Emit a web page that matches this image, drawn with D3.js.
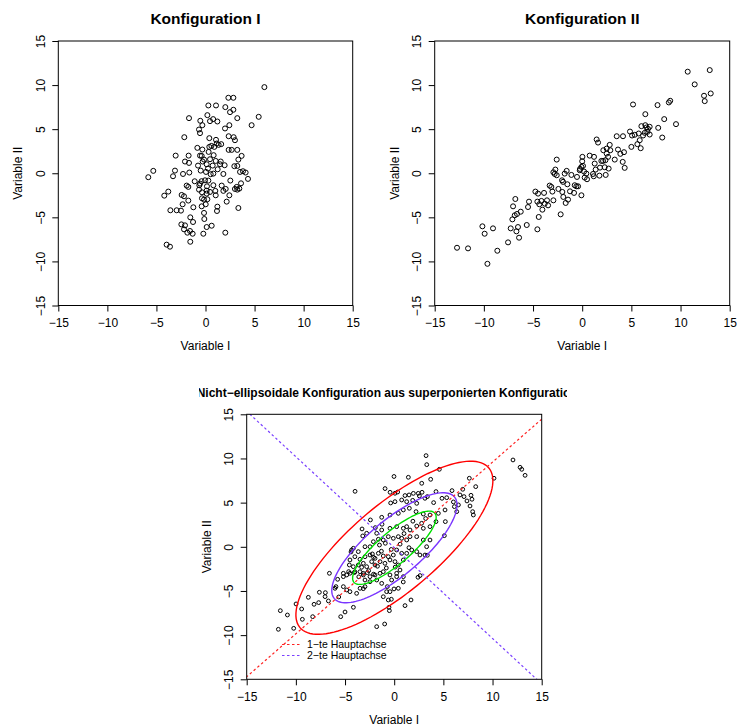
<!DOCTYPE html>
<html>
<head>
<meta charset="utf-8">
<script src="https://cdn.jsdelivr.net/npm/d3@7"></script>
<style>
  body { margin: 0; background: #fff; }
  svg { display: block; font-family: "Liberation Sans", Arial, sans-serif; }
</style>
</head>
<body>
<div id="chart"></div>
<script>
// ticks shared by all three panels
var ticks = [-15, -10, -5, 0, 5, 10, 15];

// Konfiguration I
var konfI = [[6.0,9.77],[2.33,8.56],[2.84,8.56],[0.29,7.69],[1.07,7.69],[2.02,7.5],[2.84,7.2],[2.5,6.93],[-1.68,6.25],[0.19,6.59],[0.78,6.14],[0.46,5.91],[1.21,5.87],[3.24,6.25],[5.42,6.4],[4.7,5.45],[-0.53,5.95],[-0.32,5.45],[2.43,5.45],[1.99,5.08],[-0.66,4.96],[-0.56,4.55],[-2.16,4.09],[0.39,3.98],[2.36,4.2],[2.87,4.09],[3.0,3.75],[1.07,3.79],[1.14,3.37],[1.34,3.22],[0.9,2.99],[-0.83,2.88],[-0.32,2.69],[0.39,2.99],[2.36,2.65],[2.67,2.65],[3.24,2.65],[0.32,2.42],[-0.56,2.0],[-0.39,1.97],[0.83,2.05],[3.68,1.97],[-3.04,2.0],[-1.72,2.0],[-0.29,1.33],[-0.15,1.55],[0.46,1.59],[1.04,1.4],[1.55,1.33],[3.35,1.55],[-2.09,1.33],[-1.68,1.17],[-0.76,0.87],[0.12,1.02],[0.73,0.87],[1.48,1.02],[1.95,0.91],[2.94,0.8],[3.24,0.83],[3.82,0.23],[4.09,0.08],[3.52,0.15],[1.24,0.45],[0.05,0.15],[0.53,-0.11],[1.82,-0.08],[-0.49,0.3],[-1.65,0.08],[-2.29,-0.08],[-3.11,0.3],[-3.31,-0.34],[-5.32,0.27],[-5.83,-0.45],[4.33,-0.64],[2.53,-0.83],[-0.05,-0.8],[0.29,-0.83],[-1.1,-0.91],[-0.56,-1.17],[0.8,-1.36],[1.65,-1.4],[0.15,-1.48],[-1.92,-1.4],[-1.75,-1.55],[3.18,-1.55],[3.0,-1.78],[3.24,-1.86],[3.45,-1.74],[3.62,-1.14],[2.06,-1.78],[-0.66,-1.86],[0.12,-1.97],[1.0,-2.0],[1.82,-2.0],[-0.36,-2.16],[0.46,-2.12],[0.12,-2.31],[1.04,-2.5],[2.43,-2.5],[-2.43,-2.46],[-2.19,-2.61],[-4.2,-2.54],[-3.79,-2.08],[-0.36,-2.84],[-0.15,-2.99],[0.19,-2.95],[-1.75,-3.1],[2.16,-3.22],[-2.33,-3.52],[-0.39,-3.75],[0.02,-3.52],[1.21,-3.79],[-1.24,-3.86],[-3.58,-4.2],[-2.94,-4.2],[-2.5,-4.24],[1.17,-4.28],[3.35,-3.94],[-0.15,-4.5],[-1.55,-5.0],[-0.12,-5.19],[-1.27,-5.53],[-2.46,-5.8],[-2.09,-5.91],[0.63,-5.95],[0.12,-6.1],[-2.19,-6.36],[-1.58,-6.55],[-1.85,-6.74],[-1.31,-6.86],[-0.22,-6.86],[2.02,-6.74],[-1.55,-7.77],[-3.96,-8.1],[-3.62,-8.33],[-0.63,-1.36],[0.8,-0.04],[0.25,0.53],[0.6,3.1],[1.6,3.3],[-0.4,-0.9]];

// Konfiguration II
var konfII = [[-12.73,-8.45],[-11.61,-8.52],[-9.64,-10.27],[-8.63,-8.79],[-10.15,-6.02],[-9.92,-6.86],[-9.07,-6.25],[-7.54,-7.84],[-7.27,-6.25],[-6.53,-6.1],[-6.42,-7.31],[-6.69,-6.59],[-7.1,-5.23],[-6.86,-4.77],[-6.63,-4.62],[-6.25,-4.36],[-7.03,-3.75],[-6.8,-2.92],[-5.64,-5.87],[-5.51,-3.83],[-5.41,-3.22],[-4.76,-2.08],[-4.56,-3.22],[-4.49,-2.31],[-4.42,-4.96],[-4.56,-6.36],[-4.36,-3.52],[-4.15,-3.14],[-4.05,-4.13],[-3.81,-3.45],[-3.88,-2.23],[-3.58,-3.07],[-3.47,-3.64],[-3.31,-1.4],[-3.14,-1.55],[-3.03,-2.08],[-2.93,-3.07],[-2.93,0.11],[-2.8,-0.08],[-2.59,1.55],[-2.59,-0.23],[-2.73,0.42],[-2.42,-1.78],[-2.19,-4.66],[-2.05,-0.8],[-1.95,-0.98],[-2.02,-2.12],[-1.92,-2.69],[-1.78,-0.04],[-1.68,-3.37],[-1.58,0.27],[-1.51,-1.25],[-1.44,-2.99],[-1.24,-2.05],[-1.1,-0.19],[-0.83,-2.23],[-0.76,-1.36],[-0.59,-1.48],[-0.53,-0.42],[-0.42,-1.48],[-0.25,0.34],[-0.08,-2.5],[-0.22,0.49],[-0.08,0.72],[0.02,1.86],[0.0,1.36],[0.08,0.83],[0.19,0.19],[0.25,-0.49],[0.42,-0.04],[0.49,-0.68],[0.76,2.0],[1.1,-0.08],[1.17,-0.34],[1.2,1.86],[1.27,1.1],[1.47,3.83],[1.61,3.48],[1.37,0.42],[1.75,-0.27],[1.81,0.64],[1.95,1.4],[2.15,2.61],[2.12,1.4],[2.29,0.68],[2.36,1.48],[2.39,-0.19],[2.49,2.23],[2.49,2.8],[2.63,1.86],[2.69,0.53],[2.8,3.22],[2.86,2.61],[3.31,1.55],[3.51,4.2],[3.64,2.69],[3.88,2.2],[4.15,4.2],[4.25,2.39],[4.12,1.29],[4.32,0.61],[4.86,4.73],[5.0,2.99],[5.07,4.28],[5.17,7.8],[5.34,4.36],[5.61,3.3],[5.75,4.51],[5.85,3.75],[5.95,2.84],[6.02,5.34],[6.19,4.28],[6.36,4.58],[6.42,6.7],[6.42,5.45],[6.53,5.19],[6.69,5.04],[6.86,4.39],[6.86,5.27],[6.63,4.7],[7.66,7.73],[7.73,5.15],[8.14,4.05],[8.34,6.14],[8.81,8.03],[8.95,8.22],[9.54,5.57],[10.73,11.52],[11.44,10.08],[12.39,8.79],[12.46,8.18],[12.97,11.7],[13.07,9.05]];

// superponierte Konfiguration
var superKonf = [[-11.78,-9.34],[-11.58,-7.23],[-10.86,-7.72],[-10.22,-9.23],[-9.98,-6.47],[-9.41,-7.04],[-9.34,-8.21],[-8.73,-5.72],[-8.29,-7.91],[-8.15,-6.51],[-7.68,-6.32],[-7.61,-5.15],[-7.0,-5.19],[-7.03,-5.64],[-6.69,-6.13],[-6.59,-3.0],[-5.92,-4.51],[-5.75,-3.68],[-5.64,-5.68],[-5.44,-7.91],[-5.0,-7.38],[-4.83,-4.89],[-4.15,-6.85],[-3.98,6.28],[-5.17,-3.0],[-4.63,-2.81],[-4.39,-0.58],[-4.15,-0.17],[-4.05,-2.92],[-3.27,2.02],[-3.2,1.23],[-3.31,-2.32],[-3.14,-3.0],[-3.47,-4.7],[-3.14,-4.74],[-2.42,3.04],[-2.22,-0.81],[-1.92,2.17],[-1.78,-9.04],[-1.24,2.55],[-0.97,-8.74],[-0.93,6.59],[-0.53,-6.85],[-0.49,-7.23],[-0.42,6.17],[-0.36,4.96],[-0.02,7.96],[0.08,6.06],[-0.29,-5.94],[-0.02,-4.77],[0.92,-3.98],[1.1,-6.66],[1.44,7.87],[1.51,5.87],[1.71,-6.02],[2.42,-3.45],[2.63,-3.26],[2.56,5.76],[2.8,7.19],[3.24,10.32],[3.31,9.3],[3.37,-0.96],[3.37,5.68],[3.71,7.64],[4.25,6.25],[4.59,8.77],[4.86,5.49],[5.1,1.26],[5.2,2.85],[5.88,6.36],[6.02,5.08],[6.12,4.55],[6.36,3.98],[6.53,4.74],[6.69,5.87],[6.97,6.51],[7.1,5.68],[7.4,5.19],[7.64,7.76],[7.71,4.62],[7.81,5.83],[7.91,5.38],[7.98,3.98],[8.05,3.6],[8.29,6.81],[10.15,7.76],[12.08,9.83],[12.8,9.0],[12.97,8.77],[13.31,8.09],
  [0.35,6.2],[1.1,5.8],[1.95,6.05],[2.45,6.05],[2.83,6.17],[0.08,5.11],[0.76,5.3],[1.27,5.11],[1.88,5.26],[2.29,4.92],[3.13,5.49],[4.01,5.0],[5.34,5.56],[-1.27,3.34],[-0.43,3.6],[0.42,3.79],[0.93,4.17],[1.54,4.36],[2.22,3.98],[2.96,3.71],[3.64,3.6],[4.49,3.79],[5.17,4.17],[-2.8,1.53],[-1.78,1.53],[-1.27,1.9],[-0.43,2.09],[0.25,2.28],[0.93,2.09],[1.27,2.28],[1.61,1.9],[2.29,2.35],[2.79,2.66],[2.96,2.09],[3.64,2.28],[4.25,2.85],[-4.33,-0.36],[-3.65,-0.55],[-2.97,0.01],[-2.46,0.01],[-2.12,0.58],[-1.61,0.85],[-1.11,0.77],[-0.6,1.15],[-0.09,0.96],[0.42,1.15],[0.76,0.96],[1.27,0.77],[1.61,1.15],[2.29,1.15],[2.96,0.77],[3.64,0.77],[-4.5,-1.49],[-4.0,-1.12],[-3.48,-1.42],[-2.97,-1.12],[-2.46,-0.93],[-1.95,-1.31],[-1.61,-0.74],[-1.11,-1.04],[-0.6,-1.12],[-0.09,-0.93],[0.25,-0.36],[0.76,-0.74],[1.27,-0.74],[1.78,-0.36],[2.29,-0.55],[2.62,-0.93],[3.13,-0.93],[3.3,0.01],[-4.56,-2.06],[-4.16,-2.25],[-3.65,-2.06],[-3.14,-1.87],[-2.8,-2.25],[-2.29,-1.68],[-1.95,-2.06],[-1.44,-1.68],[-0.94,-1.87],[-0.43,-1.49],[0.08,-1.68],[0.42,-2.06],[0.93,-1.49],[-4.83,-3.19],[-4.5,-3.0],[-4.0,-2.82],[-3.48,-2.82],[-3.14,-3.19],[-2.73,-2.93],[-2.46,-3.38],[-1.95,-3.19],[-1.44,-3.0],[-1.11,-2.82],[-0.43,-3.19],[0.25,-3.0],[0.59,-2.63],[-5.17,-3.38],[-2.97,-3.76],[-2.46,-3.95],[-1.78,-3.76],[-1.27,-4.14],[-0.7,-4.51],[-0.26,-3.76],[0.25,-3.38],[0.93,-3.38],[-6.02,-4.7],[-5.17,-4.51],[-4.5,-5.08],[-3.82,-5.27],[-2.97,-4.51],[-0.77,-5.08],[-1.11,-5.65],[-0.6,-6.02],[-0.43,-5.08],[0.42,-4.7],
  [-2.1,-1.2],[-1.3,-0.5],[-0.8,-2.4],[-2.6,-2.7],[-1.7,-2.2],[-0.3,-0.3],[0.6,0.3],[1.0,1.5],[-1.5,0.2],[-3.6,-3.4],[-2.1,-3.1],[0.1,-2.3],[1.9,2.9],[3.2,3.2],[-0.9,0.4],[1.5,-0.1]];

// principal axes (centre and slope of the first axis) and ellipses
var centre = [0.02, -0.11];
var firstAxisSlope = 0.972;
var ellipseMajor = [5.68, 8.4, 13.2];
var ellipseMinor = [1.73, 2.97, 4.7];
var ellipseColors = ["#00e000", "#7a35ff", "#ff0000"];
var axisColors = ["#ff2020", "#7a40ff"];
var legendLabels = ["1\u2212te Hauptachse", "2\u2212te Hauptachse"];

var titles = ["Konfiguration I", "Konfiguration II",
  "Nicht\u2212ellipsoidale Konfiguration aus superponierten Konfigurationen"];

var W = 737, H = 727;
var svg = d3.select("#chart").append("svg").attr("width", W).attr("height", H);

var panels = [
  {x0: 58.3, x1: 352.7, y0: 41, y1: 305.5, data: konfI, r: 2.5, title: titles[0], tsize: 15.5, tbase: 24, clip: null},
  {x0: 434.7, x1: 729.7, y0: 41, y1: 305.5, data: konfII, r: 2.5, title: titles[1], tsize: 15.5, tbase: 24, clip: null},
  {x0: 246.7, x1: 541.7, y0: 414.3, y1: 679.3, data: superKonf, r: 1.9, title: titles[2], tsize: 12, tbase: 397, clip: [199, 567]}
];

var defs = svg.append("defs");
var minus = function(d){ return String(d).replace("-", "\u2212"); };

panels.forEach(function(p, i){
  var x = d3.scaleLinear().domain([-15, 15]).range([p.x0, p.x1]);
  var y = d3.scaleLinear().domain([-15, 15]).range([p.y1, p.y0]);
  var g = svg.append("g");
  p.xs = x; p.ys = y; p.g = g;

  // title (bottom one is cut by its figure region, as in the original)
  var tg = g;
  if(p.clip){
    defs.append("clipPath").attr("id", "tclip" + i).append("rect")
      .attr("x", p.clip[0]).attr("y", p.tbase - 20).attr("width", p.clip[1] - p.clip[0]).attr("height", 30);
    tg = g.append("g").attr("clip-path", "url(#tclip" + i + ")");
  }
  tg.append("text").attr("x", (p.x0 + p.x1) / 2).attr("y", p.tbase)
    .attr("text-anchor", "middle").attr("font-weight", "bold")
    .attr("font-size", p.tsize).text(p.title);

  // axes
  var xa = g.append("g").attr("transform", "translate(0," + p.y1 + ")")
    .call(d3.axisBottom(x).tickValues(ticks).tickSize(6).tickPadding(4).tickFormat(minus));
  xa.select(".domain").remove();
  xa.selectAll("text").attr("font-size", 12).attr("font-family", null).attr("dy", null).attr("y", 21.5);
  var ya = g.append("g").attr("transform", "translate(" + p.x0 + ",0)")
    .call(d3.axisLeft(y).tickValues(ticks).tickSize(6).tickFormat(minus));
  ya.select(".domain").remove();
  ya.selectAll("text").attr("font-size", 12).attr("font-family", null)
    .attr("x", null).attr("dy", null).attr("text-anchor", "middle")
    .attr("transform", "translate(-13.5,0) rotate(-90)");
  g.selectAll(".tick line").attr("stroke", "#000");

  g.append("text").attr("x", (p.x0 + p.x1) / 2).attr("y", p.y1 + 44.5)
    .attr("text-anchor", "middle").attr("font-size", 12).text("Variable I");
  g.append("text").attr("transform", "translate(" + (p.x0 - 36) + "," + ((p.y0 + p.y1) / 2) + ") rotate(-90)")
    .attr("text-anchor", "middle").attr("font-size", 12).text("Variable II");

  // plot clip
  defs.append("clipPath").attr("id", "pclip" + i).append("rect")
    .attr("x", p.x0).attr("y", p.y0).attr("width", p.x1 - p.x0).attr("height", p.y1 - p.y0);

  g.append("g").selectAll("circle").data(p.data).enter().append("circle")
    .attr("cx", function(d){ return x(d[0]); })
    .attr("cy", function(d){ return y(d[1]); })
    .attr("r", p.r).attr("fill", "none").attr("stroke", "#000").attr("stroke-width", i == 2 ? 1 : 1);
});

// ellipses and principal axes on the third panel
var p = panels[2];
var theta = Math.atan(firstAxisSlope);
var line = d3.line().x(function(d){ return p.xs(d[0]); }).y(function(d){ return p.ys(d[1]); });
var pg = p.g.append("g").attr("clip-path", "url(#pclip2)");

ellipseMajor.forEach(function(a, k){
  var b = ellipseMinor[k];
  var pts = d3.range(0, 361, 3).map(function(deg){
    var t = deg * Math.PI / 180;
    return [centre[0] + a * Math.cos(t) * Math.cos(theta) - b * Math.sin(t) * Math.sin(theta),
            centre[1] + a * Math.cos(t) * Math.sin(theta) + b * Math.sin(t) * Math.cos(theta)];
  });
  pg.append("path").attr("d", line(pts) + "Z").attr("fill", "none")
    .attr("stroke", ellipseColors[k]).attr("stroke-width", 1.4);
});

var slopes = [firstAxisSlope, -1 / firstAxisSlope];
slopes.forEach(function(s, k){
  var pts = [-30, 30].map(function(xv){ return [xv, centre[1] + s * (xv - centre[0])]; });
  pg.append("path").attr("d", line(pts)).attr("fill", "none")
    .attr("stroke", axisColors[k]).attr("stroke-width", 1.2).attr("stroke-dasharray", "2.5,2.5");
});

// legend (no box)
var lg = p.g.append("g");
legendLabels.forEach(function(lab, k){
  var ly = 644.5 + k * 11;
  lg.append("line").attr("x1", 282).attr("x2", 300).attr("y1", ly).attr("y2", ly)
    .attr("stroke", axisColors[k]).attr("stroke-width", 1.2).attr("stroke-dasharray", "2.5,2.5");
  lg.append("text").attr("x", 307).attr("y", ly + 3.8).attr("font-size", 10.5).text(lab);
});

// boxes
panels.forEach(function(p){
  p.g.append("rect").attr("x", p.x0).attr("y", p.y0)
    .attr("width", p.x1 - p.x0).attr("height", p.y1 - p.y0)
    .attr("fill", "none").attr("stroke", "#000").attr("stroke-width", 1);
});
</script>
</body>
</html>
